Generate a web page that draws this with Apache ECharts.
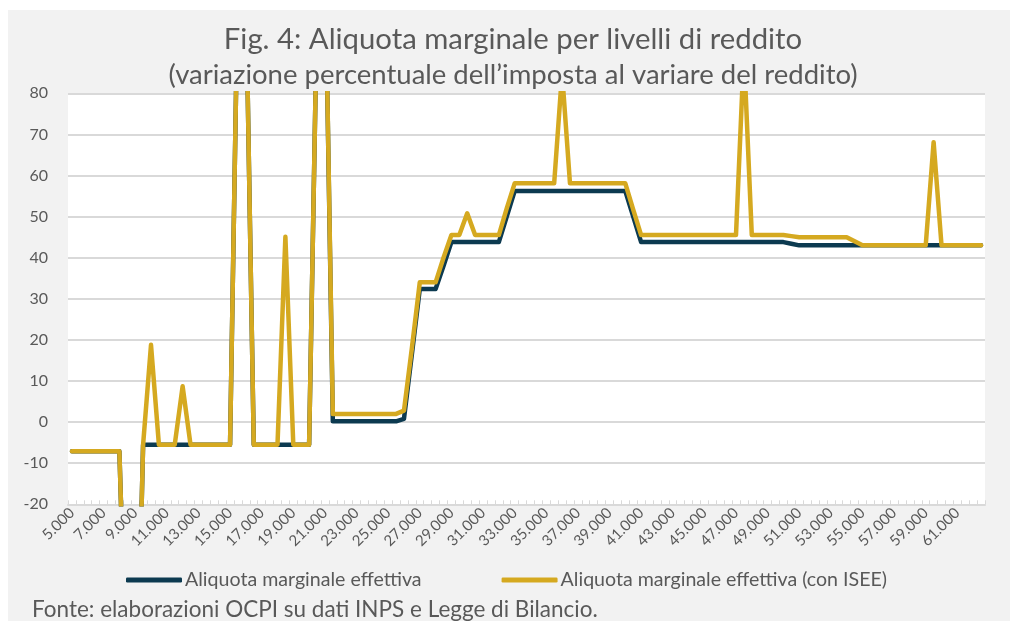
<!DOCTYPE html>
<html>
<head>
<meta charset="utf-8">
<script src="https://cdn.jsdelivr.net/npm/echarts@6/dist/echarts.min.js"></script>
<style>
html,body{margin:0;padding:0;background:#fff;}
#wrap{position:relative;width:1010px;height:621px;overflow:hidden;background:#fff;}
#panel{position:absolute;left:8px;top:10px;width:1002px;height:611px;background:#f2f2f2;}
#chart{position:absolute;left:0;top:0;width:1010px;height:621px;}
</style>
</head>
<body>
<div id="wrap"><div id="panel"></div><div id="chart"></div></div>
<script>
// Income levels (euro)
const incomes = [
  5000,5500,6000,6500,7000,7500,8000,8500,9000,9500,
  10000,10500,11000,11500,12000,12500,13000,13500,14000,14500,
  15000,15500,16000,16500,17000,17500,18000,18500,19000,19500,
  20000,20500,21000,21500,22000,22500,23000,23500,24000,24500,
  25000,25500,26000,26500,27000,27500,28000,28500,29000,29500,
  30000,30500,31000,31500,32000,32500,33000,33500,34000,34500,
  35000,35500,36000,36500,37000,37500,38000,38500,39000,39500,
  40000,40500,41000,41500,42000,42500,43000,43500,44000,44500,
  45000,45500,46000,46500,47000,47500,48000,48500,49000,49500,
  50000,50500,51000,51500,52000,52500,53000,53500,54000,54500,
  55000,55500,56000,56500,57000,57500,58000,58500,59000,59500,
  60000,60500,61000,61500,62000,62500
];

// Aliquota marginale effettiva
const effettiva = [
  -7.1,-7.1,-7.1,-7.1,-7.1,-7.1,-7.1,-70,-85,-5.5,
  -5.5,-5.5,-5.5,-5.5,-5.5,-5.5,-5.5,-5.5,-5.5,-5.5,
  -5.5,108,106,-5.5,-5.5,-5.5,-5.5,-5.5,-5.5,-5.5,
  -5.5,100,115,0.2,0.2,0.2,0.2,0.2,0.2,0.2,
  0.2,0.2,0.8,16.5,32.4,32.4,32.4,38,43.8,43.8,
  43.8,43.8,43.8,43.8,43.8,50,56.2,56.2,56.2,56.2,
  56.2,56.2,56.2,56.2,56.2,56.2,56.2,56.2,56.2,56.2,
  56.2,50,43.8,43.8,43.8,43.8,43.8,43.8,43.8,43.8,
  43.8,43.8,43.8,43.8,43.8,43.8,43.8,43.8,43.8,43.8,
  43.8,43.4,43.0,43.0,43.0,43.0,43.0,43.0,43.0,43.0,
  43.0,43.0,43.0,43.0,43.0,43.0,43.0,43.0,43.0,43.0,
  43.0,43.0,43.0,43.0,43.0,43.0
];

// Aliquota marginale effettiva (con ISEE)
const conIsee = [
  -7.1,-7.1,-7.1,-7.1,-7.1,-7.1,-7.1,-70,-85,-5.5,
  18.8,-5.5,-5.5,-5.5,8.7,-5.5,-5.5,-5.5,-5.5,-5.5,
  -5.5,108,106,-5.5,-5.5,-5.5,-5.5,45.1,-5.5,-5.5,
  -5.5,100,115,2.0,2.0,2.0,2.0,2.0,2.0,2.0,
  2.0,2.0,2.8,18,34.0,34.0,34.0,40,45.5,45.5,
  50.8,45.5,45.5,45.5,45.5,52,58.1,58.1,58.1,58.1,
  58.1,58.1,85,58.1,58.1,58.1,58.1,58.1,58.1,58.1,
  58.1,51.7,45.5,45.5,45.5,45.5,45.5,45.5,45.5,45.5,
  45.5,45.5,45.5,45.5,45.5,90,45.5,45.5,45.5,45.5,
  45.5,45.25,45.0,45.0,45.0,45.0,45.0,45.0,45.0,44.0,
  43.0,43.0,43.0,43.0,43.0,43.0,43.0,43.0,43.0,68.1,
  43.0,43.0,43.0,43.0,43.0,43.0
];

const yTicks = [-20,-10,0,10,20,30,40,50,60,70,80];

const seriesNames = ['Aliquota marginale effettiva', 'Aliquota marginale effettiva (con ISEE)'];
const titleText = 'Fig. 4: Aliquota marginale per livelli di reddito';
const subtitleText = '(variazione percentuale dell\u2019imposta al variare del reddito)';
const sourceText = 'Fonte: elaborazioni OCPI su dati INPS e Legge di Bilancio.';

const fmt = v => String(v).replace(/\B(?=(\d{3})+(?!\d))/g, '.');
const categories = incomes.map(fmt);

const FONT = 'Lato';
const chart = echarts.init(document.getElementById('chart'), null, {renderer: 'canvas'});
chart.setOption({
  animation: false,
  backgroundColor: 'transparent',
  textStyle: {fontFamily: FONT},
  grid: {left: 68, right: 25, top: 93.3, bottom: 116.7, show: true, backgroundColor: '#ffffff', borderWidth: 0},
  legend: {
    left: 126, top: 570, padding: 0,
    itemWidth: 56, itemHeight: 5, itemGap: 80,
    icon: 'roundRect',
    textStyle: {fontFamily: FONT, fontSize: 19.6, color: '#595959', padding: [0,0,0,-2]},
    data: seriesNames
  },
  xAxis: {
    type: 'category',
    data: categories,
    boundaryGap: true,
    axisLine: {show: true, onZero: false, lineStyle: {color: '#d9d9d9', width: 2}},
    axisTick: {show: true, inside: true, length: 4, interval: 0, lineStyle: {color: '#d9d9d9', width: 1}},
    axisLabel: {interval: 3, rotate: 45, fontSize: 15, color: '#595959', margin: 6, fontFamily: FONT},
    splitLine: {show: false}
  },
  yAxis: {
    type: 'value',
    min: yTicks[0], max: yTicks[yTicks.length - 1], interval: 10,
    axisLine: {show: false},
    axisTick: {show: false},
    axisLabel: {fontSize: 16, color: '#595959', margin: 20, fontFamily: FONT},
    splitLine: {show: true, lineStyle: {color: '#d9d9d9', width: 2}}
  },
  series: [
    {name: seriesNames[0], type: 'line', data: effettiva, symbol: 'none', clip: true,
     color: '#0c3a50',
     lineStyle: {color: '#0c3a50', width: 4.5, cap: 'round', join: 'round'}},
    {name: seriesNames[1], type: 'line', data: conIsee, symbol: 'none', clip: true,
     color: '#d5a920',
     lineStyle: {color: '#d5a920', width: 4.5, cap: 'round', join: 'round'}}
  ],
  graphic: [
    {type: 'text', x: 513, y: 40,
     style: {text: titleText, fontFamily: FONT, fontSize: 29.3, fill: '#595959', align: 'center', verticalAlign: 'middle'}},
    {type: 'text', x: 513, y: 75,
     style: {text: subtitleText, fontFamily: FONT, fontSize: 27.5, fill: '#595959', align: 'center', verticalAlign: 'middle'}},
    {type: 'text', left: 32, top: 598,
     style: {text: sourceText, fontFamily: FONT, fontSize: 22.5, fill: '#595959'}}
  ]
});
</script>
</body>
</html>
